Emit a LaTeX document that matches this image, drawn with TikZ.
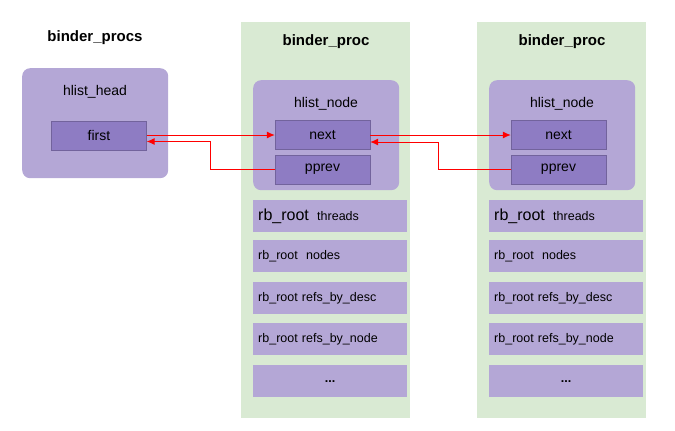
\documentclass[tikz,border=0pt]{standalone}
\usepackage{fontspec}
\setmainfont{Liberation Sans}
\usetikzlibrary{arrows.meta}
\definecolor{panel}{HTML}{D9EAD3}
\definecolor{light}{HTML}{B4A7D6}
\definecolor{dark}{HTML}{8E7CC3}
\begin{document}
\begin{tikzpicture}
[
    x=1pt, y=-1pt,
    box/.style={draw=none, fill=light, rounded corners=8pt, anchor=north west, inner sep=0pt},
    field/.style={fill=dark, draw=dark!80!black, line width=0.3pt, minimum width=95pt, minimum height=29pt, inner sep=0pt, font=\fontsize{14}{16}\selectfont},
    rbroot/.style={fill=light, anchor=north west, text width=144pt, minimum height=32pt, inner xsep=5pt, inner ysep=0pt, align=left, font=\fontsize{12.5}{14}\selectfont},
    title/.style={font=\fontsize{15}{17}\selectfont\bfseries},
    link/.style={red, line width=1pt, -{Latex[length=8pt,width=7pt]}},
]
\useasboundingbox (0,0) rectangle (675,431);
\node[title] (procs) at (95,38) {binder\_procs};
\node[box, minimum width=146pt, minimum height=110pt] (head) at (22,68) {};
\node[font=\fontsize{14}{16}\selectfont] (headtxt) at (95,92) {hlist\_head};
\node[field] (first) at (99,135.5) {first};
\foreach \px/\nm in {241/a, 477/b} {
  \fill[panel] (\px,22) rectangle ++(169,396);
  \node[title] (title\nm) at (\px+85,42) {binder\_proc};
  \node[box, minimum width=146pt, minimum height=110pt] (node\nm) at (\px+12,80) {};
  \node[font=\fontsize{14}{16}\selectfont] (nodetxt\nm) at (\px+85,104) {hlist\_node};
  \node[field] (next-\nm) at (\px+81.5,135) {next};
  \node[field] (prev-\nm) at (\px+81.5,169.5) {pprev};
  \node[rbroot] (rba\nm) at (\px+12,200) {{\fontsize{16}{18}\selectfont rb\_root}\ \ threads};
  \node[rbroot] (rbb\nm) at (\px+12,240) {rb\_root\ \ nodes};
  \node[rbroot] (rbc\nm) at (\px+12,282) {rb\_root refs\_by\_desc};
  \node[rbroot] (rbd\nm) at (\px+12,323) {rb\_root refs\_by\_node};
  \node[rbroot, align=center] (rbe\nm) at (\px+12,365) {\bfseries ...};
}
\draw[link] (first.east |- next-a.west) -- (next-a.west);
\draw[link] (prev-a.west) -- (210,169.5) |- ([yshift=-6pt]first.east);
\draw[link] (next-a.east) -- (next-b.west);
\draw[link] (prev-b.west) -- (438,169.5) |- ([yshift=-7pt]next-a.east);
\end{tikzpicture}
\end{document}
